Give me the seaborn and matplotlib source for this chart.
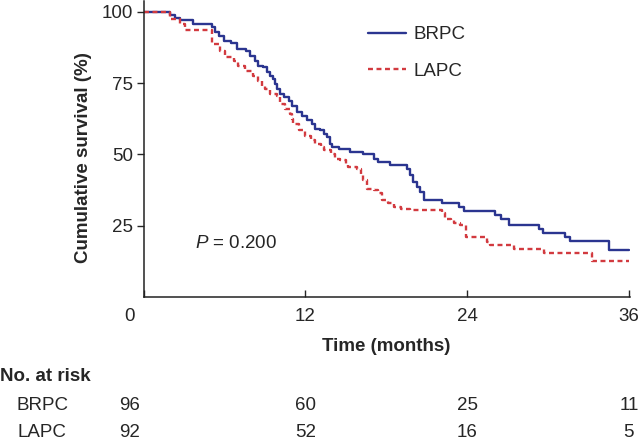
import matplotlib
matplotlib.use("Agg")
import matplotlib.pyplot as plt
import matplotlib.transforms as mtransforms
import seaborn as sns
import pandas as pd

# Kaplan-Meier steps (months, % surviving)
brpc_time = [0, 1.97, 2.34, 2.7, 3.68, 5.07, 5.3, 5.6, 6.0, 6.5, 6.9, 7.6, 7.9, 8.3, 8.5,
             8.9, 9.15, 9.4, 9.64, 9.77, 9.9, 10.14, 10.39, 10.76, 11.0, 11.38, 11.75,
             12.1, 12.5, 12.74, 13.1, 13.36, 13.6, 13.86, 14.0, 14.5, 15.3, 16.3, 17.1,
             17.4, 18.3, 19.55, 19.8, 20.0, 20.3, 20.5, 20.8, 22.15, 23.4, 23.75, 26.1,
             26.5, 27.1, 29.3, 29.6, 31.3, 31.6, 34.5, 36.0]
brpc_surv = [100, 98.9, 97.9, 97.0, 95.8, 94.6, 92.8, 91.4, 89.9, 88.9, 87.0, 86.4, 84.4,
             82.9, 81.1, 80.5, 78.8, 77.6, 76.5, 74.7, 73.0, 71.2, 70.0, 68.9, 67.1, 64.8,
             63.6, 61.9, 60.7, 59.0, 58.4, 57.2, 56.0, 53.7, 52.5, 51.9, 50.8, 50.2, 48.5,
             47.3, 46.2, 45.0, 42.7, 40.3, 38.6, 36.8, 33.9, 33.0, 31.6, 30.2, 28.7, 27.5,
             25.2, 24.0, 22.5, 21.1, 19.7, 16.4, 16.4]

lapc_time = [0, 1.97, 2.7, 3.1, 5.07, 5.7, 6.05, 6.7, 7.0, 7.5, 8.15, 8.5, 8.8, 9.0, 9.4,
             9.9, 10.14, 10.5, 10.9, 11.0, 11.1, 11.5, 12.0, 12.4, 12.7, 13.2, 13.4, 13.9,
             14.2, 14.6, 15.0, 15.2, 15.8, 16.1, 16.3, 16.6, 17.1, 17.4, 17.7, 18.1, 18.6,
             19.1, 19.8, 22.15, 22.4, 22.8, 23.0, 23.5, 23.9, 25.5, 25.7, 27.5, 29.7, 33.3,
             36.0]
lapc_surv = [100, 97.4, 95.7, 93.6, 88.7, 86.4, 84.0, 82.9, 81.0, 79.4, 77.6, 75.9, 74.1,
             73.0, 71.2, 70.6, 67.7, 66.0, 64.2, 62.5, 60.7, 58.4, 56.6, 54.9, 53.7, 52.5,
             51.4, 50.2, 48.5, 47.9, 46.7, 45.6, 45.0, 43.3, 40.9, 38.0, 37.4, 36.3, 33.9,
             32.8, 31.6, 31.0, 30.4, 29.3, 27.5, 26.9, 25.8, 25.2, 21.1, 19.3, 18.2, 17.0,
             15.3, 12.6, 12.6]

groups = ["BRPC", "LAPC"]
risk_months = [0, 12, 24, 36]
risk_brpc = [96, 60, 25, 11]
risk_lapc = [92, 52, 16, 5]
p_text = "= 0.200"

sns.set_style("ticks")
plt.rcParams["font.family"] = ["Liberation Sans", "DejaVu Sans"]
plt.rcParams["mathtext.fontset"] = "custom"
plt.rcParams["mathtext.it"] = "Liberation Sans:italic"
plt.rcParams["mathtext.rm"] = "Liberation Sans"

FS = 13.5
blue = "#2b3590"
red = "#d23a3f"

fig = plt.figure(figsize=(6.41, 4.48), dpi=100)
ax = fig.add_axes([143.5 / 641, 1 - 297 / 448, (629.5 - 143.5) / 641, 296 / 448])

df_b = pd.DataFrame({"time": brpc_time, "surv": brpc_surv})
df_l = pd.DataFrame({"time": lapc_time, "surv": lapc_surv})
sns.lineplot(data=df_b, x="time", y="surv", ax=ax, color=blue, lw=1.7,
             drawstyle="steps-post", estimator=None, sort=False, label=groups[0])
sns.lineplot(data=df_l, x="time", y="surv", ax=ax, color=red, lw=1.7,
             drawstyle="steps-post", estimator=None, sort=False, label=groups[1])
ax.lines[1].set_dashes([2.1, 1.5])

ax.set_xlim(0, 36.05)
ax.set_ylim(0, 103.8)
ax.set_xticks(risk_months)
ax.set_yticks([25, 50, 75, 100])
ax.tick_params(axis="x", direction="in", length=5, width=1, pad=8, labelsize=FS)
ax.tick_params(axis="y", direction="out", length=5, width=1, pad=2.5, labelsize=FS)
for s in ["top", "right"]:
    ax.spines[s].set_visible(False)
for s in ["left", "bottom"]:
    ax.spines[s].set_linewidth(1.1)
    ax.spines[s].set_color("#222222")

# "0" label sits left of the origin
lab0 = ax.get_xticklabels()[0]
lab0.set_transform(lab0.get_transform() + mtransforms.ScaledTranslation(-14 / 100, 0, fig.dpi_scale_trans))

ax.set_xlabel("")
ax.set_ylabel("Cumulative survival (%)", fontsize=FS, fontweight="bold")
ax.yaxis.set_label_coords((92 - 143.5) / 486, (297 - 158) / 296)
fig.text((143.5 + 629.5) / 2 / 641, 1 - 346 / 448, "Time (months)", ha="center", va="center",
         fontsize=FS, fontweight="bold")

ax.legend(loc="upper left", bbox_to_anchor=(368 / 641, 1 - 26 / 448),
          bbox_transform=fig.transFigure, frameon=False, fontsize=FS,
          handlelength=2.0, handletextpad=0.45, labelspacing=1.05, borderpad=0, borderaxespad=0)

ax.text(3.8, 18.7, r"$P$ " + p_text, fontsize=FS, ha="left", va="center")

# number at risk table
fig.text(0, 1 - 376 / 448, "No. at risk", ha="left", va="center", fontsize=FS, fontweight="bold")
trans = mtransforms.blended_transform_factory(ax.transData, fig.transFigure)
for name, counts, ypix in [(groups[0], risk_brpc, 405), (groups[1], risk_lapc, 432)]:
    fig.text(42 / 641, 1 - ypix / 448, name, ha="center", va="center", fontsize=FS)
    for m, n in zip(risk_months, counts):
        shift = -14 / 100 if m == 0 else 0
        t = trans + mtransforms.ScaledTranslation(shift, 0, fig.dpi_scale_trans)
        ax.text(m, 1 - ypix / 448, str(n), transform=t, ha="center", va="center",
                fontsize=FS, clip_on=False)

fig.savefig("out.png", dpi=100)
